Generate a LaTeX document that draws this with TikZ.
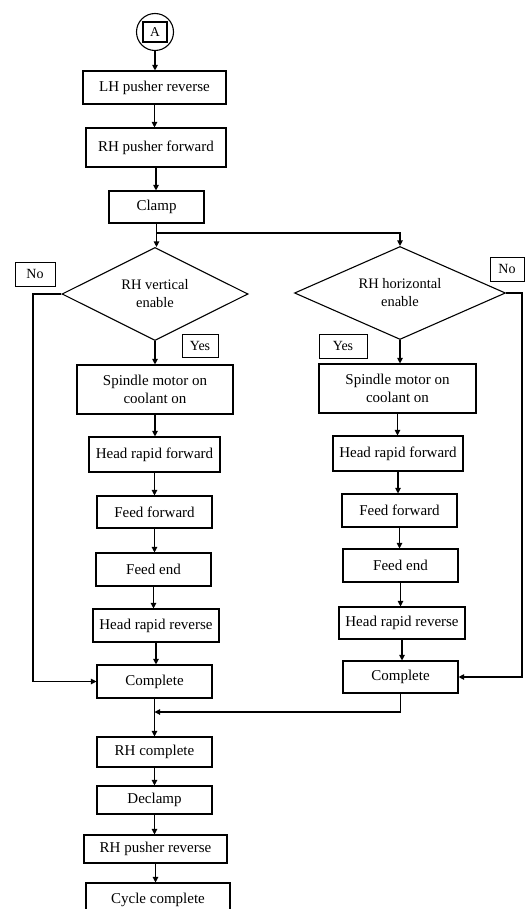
\documentclass[tikz,border=0pt]{standalone}
\usepackage{fontspec}
\setmainfont{Liberation Serif}
\usetikzlibrary{shapes.geometric,arrows.meta}
\tikzset{
  box/.style={draw, line width=1.1pt, inner sep=0pt, align=center, font=\fontsize{15}{18}\selectfont},
  tag/.style={draw, line width=0.9pt, inner sep=0pt, font=\fontsize{14}{16}\selectfont},
  dec/.style={draw, diamond, line width=1.1pt, inner sep=0pt, align=center, font=\fontsize{14.5}{18}\selectfont},
  arr/.style={line width=1.1pt, -{Triangle[length=5.5pt,width=5.5pt]}},
}
\begin{document}
\begin{tikzpicture}[x=1pt,y=-1pt]
\useasboundingbox (0,0) rectangle (526,909);
\clip (0,0) rectangle (526,909);
% connector A
\node[circle, draw, line width=1.1pt, minimum size=37pt, inner sep=0pt] (a) at (155,32) {};
\node[draw, line width=1.1pt, minimum width=24pt, minimum height=20pt, inner sep=0pt, font=\fontsize{13.5}{15}\selectfont] (aa) at (155,32) {A};
% top chain
\node[box, minimum width=143pt, minimum height=33pt] (lh) at (154.5,87.5) {LH pusher reverse};
\node[box, minimum width=140pt, minimum height=39pt] (rpf) at (156,147.5) {RH pusher forward};
\node[box, minimum width=95pt, minimum height=32pt] (clamp) at (156.5,207) {Clamp};
% decisions
\node[dec, aspect=2, minimum width=186pt, minimum height=93pt] (dl) at (155,294) {RH vertical\\enable};
\node[dec, aspect=2.27, minimum width=211pt, minimum height=93pt] (dr) at (400,293) {RH horizontal\\enable};
% tags
\node[tag, minimum width=40pt, minimum height=24pt] (nol) at (35,274) {No};
\node[tag, minimum width=34pt, minimum height=24pt] (nor) at (507,269) {No};
\node[tag, minimum width=36pt, minimum height=23pt] (yesl) at (200,345.5) {Yes};
\node[tag, minimum width=48pt, minimum height=24pt] (yesr) at (343,346) {Yes};
% left column
\node[box, minimum width=156pt, minimum height=49pt] (spl) at (155,389.5) {Spindle motor on\\coolant on};
\node[box, minimum width=131pt, minimum height=35pt] (hfl) at (154.5,454.5) {Head rapid forward};
\node[box, minimum width=115pt, minimum height=32pt] (ffl) at (154.5,512) {Feed forward};
\node[box, minimum width=115pt, minimum height=33pt] (fel) at (153.5,569.5) {Feed end};
\node[box, minimum width=126pt, minimum height=33pt] (hrl) at (156,625.5) {Head rapid reverse};
\node[box, minimum width=115pt, minimum height=33pt] (cl) at (154.5,681.5) {Complete};
% right column
\node[box, minimum width=157pt, minimum height=49pt] (spr) at (397.5,388.5) {Spindle motor on\\coolant on};
\node[box, minimum width=130pt, minimum height=35pt] (hfr) at (398,453.5) {Head rapid forward};
\node[box, minimum width=115pt, minimum height=33pt] (ffr) at (399.5,510.5) {Feed forward};
\node[box, minimum width=115pt, minimum height=33pt] (fer) at (400.5,565.5) {Feed end};
\node[box, minimum width=126pt, minimum height=32pt] (hrr) at (402,623) {Head rapid reverse};
\node[box, minimum width=115pt, minimum height=32pt] (cr) at (400.5,677) {Complete};
% bottom chain
\node[box, minimum width=115pt, minimum height=30pt] (rhc) at (154.5,752) {RH complete};
\node[box, minimum width=115pt, minimum height=28pt] (dcl) at (154.5,800) {Declamp};
\node[box, minimum width=143pt, minimum height=28pt] (rpr) at (155.5,849) {RH pusher reverse};
\node[box, minimum width=144pt, minimum height=34pt] (cyc) at (158,900) {Cycle complete};
% helper coordinates
\coordinate (j) at (0,233);
\coordinate (nl) at (33,0);
\coordinate (nr) at (522,0);
\coordinate (m) at (0,712);
% connectors
\draw[arr] (a.south) -- (a.south |- lh.north);
\draw[arr] (lh.south) -- (lh.south |- rpf.north);
\draw[arr] (rpf.south) -- (rpf.south |- clamp.north);
\draw[arr] (clamp.south) -- (clamp.south |- dl.north);
\draw[arr] (clamp.south |- j) -| (dr.north);
\draw[arr] (dl.south) -- (dl.south |- spl.north);
\draw[arr] (dr.south) -- (dr.south |- spr.north);
\draw[arr] (spl.south) -- (spl.south |- hfl.north);
\draw[arr] (hfl.south) -- (hfl.south |- ffl.north);
\draw[arr] (ffl.south) -- (ffl.south |- fel.north);
\draw[arr] (fel.south) -- (fel.south |- hrl.north);
\draw[arr] (hrl.south) -- (hrl.south |- cl.north);
\draw[arr] (spr.south) -- (spr.south |- hfr.north);
\draw[arr] (hfr.south) -- (hfr.south |- ffr.north);
\draw[arr] (ffr.south) -- (ffr.south |- fer.north);
\draw[arr] (fer.south) -- (fer.south |- hrr.north);
\draw[arr] (hrr.south) -- (hrr.south |- cr.north);
\draw[arr] (dl.west) -- (dl.west -| nl) |- (cl.west);
\draw[arr] (dr.east) -- (dr.east -| nr) |- (cr.east);
\draw[arr] (cr.south) -- (cr.south |- m) -- (cl.south |- m);
\draw[arr] (cl.south) -- (cl.south |- rhc.north);
\draw[arr] (rhc.south) -- (rhc.south |- dcl.north);
\draw[arr] (dcl.south) -- (dcl.south |- rpr.north);
\draw[arr] (rpr.south) -- (rpr.south |- cyc.north);
\end{tikzpicture}
\end{document}
